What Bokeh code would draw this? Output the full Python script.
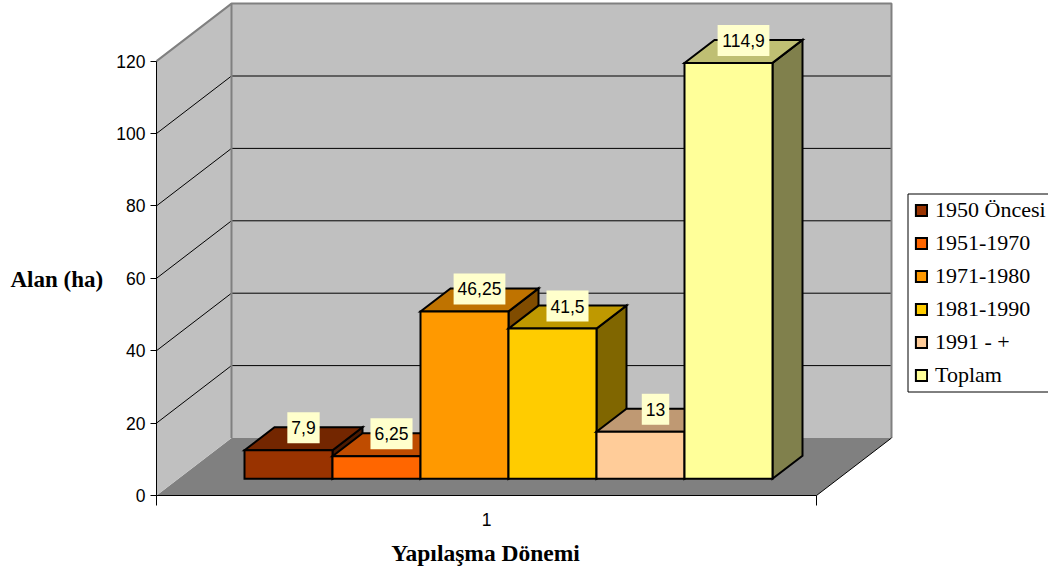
from bokeh.plotting import figure
from bokeh.models import FixedTicker, Label, Legend, LegendItem
from bokeh.embed import file_html
from bokeh.resources import INLINE
from bokeh.core.properties import value as fixed

categories = ["1950 Öncesi", "1951-1970", "1971-1980", "1981-1990", "1991 - +", "Toplam"]
values = [7.9, 6.25, 46.25, 41.5, 13, 114.9]
value_labels = ["7,9", "6,25", "46,25", "41,5", "13", "114,9"]
colors = [(0x99, 0x33, 0x00), (0xFF, 0x66, 0x00), (0xFF, 0x99, 0x00),
          (0xFF, 0xCC, 0x00), (0xFF, 0xCC, 0x99), (0xFF, 0xFF, 0x99)]
y_ticks = [0, 20, 40, 60, 80, 100, 120]
x_label = "Yapılaşma Dönemi"
y_label = "Alan (ha)"
group_label = "1"

# pixel layout of the reference
W, H = 1048, 570
ORIGIN_X, ORIGIN_Y = 156, 495
X_PX = 660.0
Y_PX = 3.62
DEPTH_X = 75 / X_PX
DEPTH_Y = 57.5 / Y_PX
FRONT, BAR_DEPTH = 0.29, 0.40
GROUP = 0.8
BAR_SHIFT = 0.25 / X_PX
SANS, SERIF = "Liberation Sans", "Liberation Serif"


def proj(x, y, d):
    return x + d * DEPTH_X, y + d * DEPTH_Y


def poly(points):
    return [proj(*q)[0] for q in points], [proj(*q)[1] for q in points]


def shade(c, k):
    return "#%02X%02X%02X" % tuple(round(v * k) for v in c)


def dx(px):
    return (px - ORIGIN_X) / X_PX


def dy(px):
    return (ORIGIN_Y - px) / Y_PX


p = figure(width=W, height=H, output_backend="svg", toolbar_location=None,
           x_range=(dx(0), dx(W)), y_range=(dy(H), dy(0)),
           min_border_left=0, min_border_right=0, min_border_top=0, min_border_bottom=0,
           outline_line_color=None, background_fill_color="white", border_fill_color="white")
p.margin = (0, 0, 0, 0)
p.grid.visible = False

# walls and floor
top = y_ticks[-1]
fx, fy = poly([(0, 0, 0), (1, 0, 0), (1, 0, 1), (0, 0, 1)])
p.patch(fx, fy, fill_color="#808080", line_color=None)
wx, wy = poly([(0, 0, 1), (1, 0, 1), (1, top, 1), (0, top, 1)])
p.patch(wx, wy, fill_color="#C0C0C0", line_color=None)
lx, ly = poly([(0, 0, 0), (0, 0, 1), (0, top, 1), (0, top, 0)])
p.patch(lx, ly, fill_color="#C0C0C0", line_color=None)

for v in y_ticks[1:-1]:
    gx, gy = poly([(0, v, 0), (0, v, 1), (1, v, 1)])
    p.line(gx, gy, line_color="black", line_width=1)

ex, ey = poly([(0, top, 0), (0, top, 1), (1, top, 1), (1, 0, 1)])
p.line(ex, ey, line_color="#808080", line_width=2)
ex, ey = poly([(0, 0, 1), (0, top, 1)])
p.line(ex, ey, line_color="#808080", line_width=2)
ex, ey = poly([(1, 0, 0), (1, 0, 1)])
p.line(ex, ey, line_color="black", line_width=1)

# bars
n = len(values)
bw = GROUP / n
x0 = (1 - GROUP) / 2 + BAR_SHIFT
items = []
lab_x, lab_y, lab_w = [], [], []
back = FRONT + BAR_DEPTH
for i, (name, v, c, txt) in enumerate(zip(categories, values, colors, value_labels)):
    a, b = x0 + i * bw, x0 + (i + 1) * bw
    sx, sy = poly([(b, 0, FRONT), (b, 0, back), (b, v, back), (b, v, FRONT)])
    p.patch(sx, sy, fill_color=shade(c, 0.5), line_color="black", line_width=2, line_join="miter")
    tx, ty = poly([(a, v, FRONT), (b, v, FRONT), (b, v, back), (a, v, back)])
    p.patch(tx, ty, fill_color=shade(c, 0.75), line_color="black", line_width=2, line_join="miter")
    ax, ay = poly([(a, 0, FRONT), (b, 0, FRONT), (b, v, FRONT), (a, v, FRONT)])
    r = p.patch(ax, ay, fill_color=shade(c, 1), line_color="black", line_width=2, line_join="miter")
    items.append(LegendItem(label=name, renderers=[r]))
    mx, my = proj((a + b) / 2, v, FRONT + BAR_DEPTH / 2)
    lab_x.append(mx)
    lab_y.append(my + 11 / Y_PX)
    lab_w.append(sum(4.86 if ch == "," else 9.73 for ch in txt) + 8)

p.rect(lab_x, lab_y, width=lab_w, height=[31] * n, width_units="screen", height_units="screen",
       fill_color="#FFFFCC", line_color=None)
p.text(lab_x, lab_y, text=value_labels, text_align="center", text_baseline="middle",
       text_font=fixed(SANS), text_font_size="17.5px", text_color="black")

# axes
ya = p.yaxis[0]
ya.fixed_location = 0
ya.ticker = FixedTicker(ticks=y_ticks)
ya.bounds = (0, top)
ya.major_tick_in = 0
ya.major_tick_out = 6
ya.minor_tick_line_color = None
ya.major_label_standoff = 5
ya.major_label_text_font = SANS
ya.major_label_text_font_size = "17.5px"
ya.major_label_text_color = "black"
ya.axis_line_color = "black"
ya.major_tick_line_color = "black"

xa = p.xaxis[0]
xa.fixed_location = 0
xa.ticker = FixedTicker(ticks=[0.5], minor_ticks=[0, 1])
xa.bounds = (0, 1)
xa.major_label_overrides = {0.5: group_label}
xa.major_tick_line_color = None
xa.major_tick_in = 0
xa.major_tick_out = 10
xa.minor_tick_in = 0
xa.minor_tick_out = 10
xa.minor_tick_line_color = "black"
xa.major_label_standoff = 7
xa.major_label_text_font = SANS
xa.major_label_text_font_size = "17.5px"
xa.major_label_text_color = "black"
xa.axis_line_color = "black"

p.add_layout(Label(x=dx(10), y=dy(279), text=y_label, text_font=SERIF, text_font_style="bold",
                   text_font_size="23px", text_color="black", text_align="left", text_baseline="middle"))
p.add_layout(Label(x=dx(485), y=dy(552), text=x_label, text_font=SERIF, text_font_style="bold",
                   text_font_size="23.5px", text_color="black", text_align="center", text_baseline="middle"))

# legend: frame runs past the right edge of the picture as in the reference
p.quad(left=[dx(907.5)], right=[dx(W + 10)], top=[dy(193.5)], bottom=[dy(391.5)],
       fill_color="white", line_color="black", line_width=1)
legend = Legend(items=items, location=(914, 182), orientation="vertical",
                border_line_color=None, background_fill_alpha=0, padding=0, margin=0, spacing=7,
                glyph_width=14, glyph_height=14, label_standoff=7, label_height=18,
                label_text_font=SERIF, label_text_font_size="22px", label_text_color="black",
                label_text_baseline="middle")
p.add_layout(legend, "center")

open("out.html", "w").write(file_html(p, INLINE))
